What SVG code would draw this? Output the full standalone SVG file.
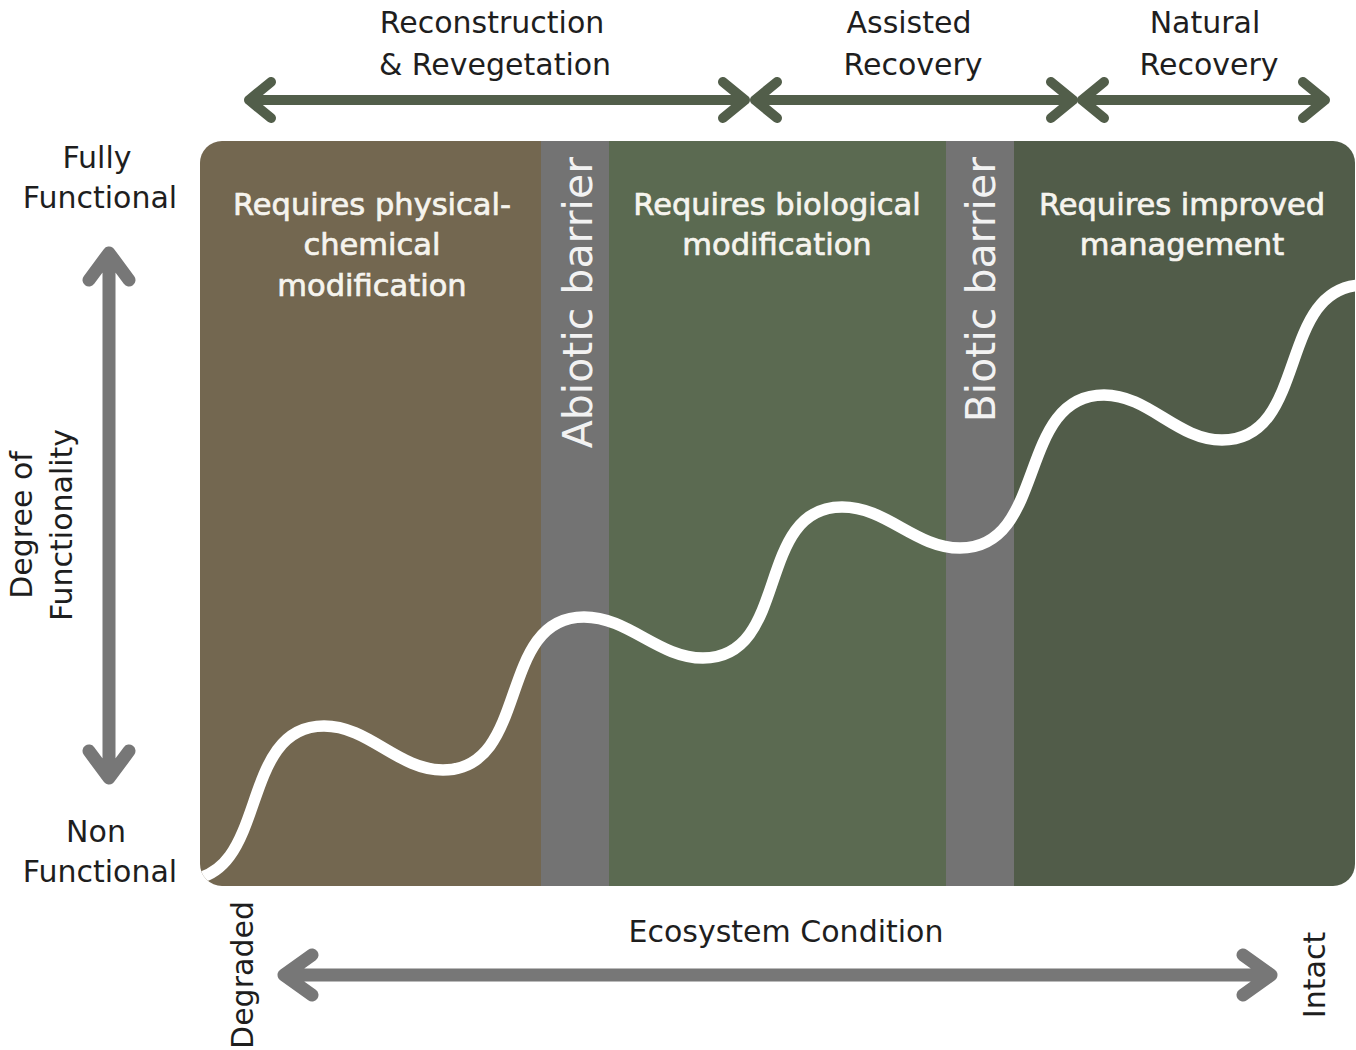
<svg xmlns="http://www.w3.org/2000/svg" width="1356" height="1050" viewBox="0 0 1356 1050">
  <style>
    .lbl { font-family: "DejaVu Sans", "Liberation Sans", sans-serif; font-size: 30px; fill: #1e1e1e; text-anchor: middle; }
    .zone { font-family: "DejaVu Sans", "Liberation Sans", sans-serif; font-size: 30.5px; fill: #f6f4ee; stroke: #f6f4ee; stroke-width: 0.7px; text-anchor: middle; }
    .bar { font-family: "DejaVu Sans", "Liberation Sans", sans-serif; font-size: 41px; fill: #f2f2f2; text-anchor: end; }
    .phase { fill: none; stroke: #525e4a; stroke-width: 10; stroke-linecap: round; stroke-linejoin: round; }
    .axis { fill: none; stroke: #777777; stroke-width: 13; stroke-linecap: round; stroke-linejoin: round; }
  </style>
  <defs>
    <clipPath id="panelClip">
      <rect x="200" y="141" width="1155" height="745" rx="22" ry="22"/>
    </clipPath>
  </defs>

  <rect width="1356" height="1050" fill="#ffffff"/>

  <!-- condition panel with its zones and barriers -->
  <g id="panel" clip-path="url(#panelClip)">
    <rect id="zone-physical" x="200" y="141" width="341" height="745" fill="#736750"/>
    <rect id="abiotic-barrier" x="541" y="141" width="68" height="745" fill="#737373"/>
    <rect id="zone-biological" x="609" y="141" width="337" height="745" fill="#5b6a51"/>
    <rect id="biotic-barrier" x="946" y="141" width="68" height="745" fill="#737373"/>
    <rect id="zone-management" x="1014" y="141" width="341" height="745" fill="#515c49"/>
    <!-- recovery trajectory -->
    <path id="trajectory" fill="none" stroke="#ffffff" stroke-width="11.5" stroke-linecap="round"
      d="M 183 880 C 271 880 236 726 324 726
         C 369 726 398 770 443 770
         C 531 770 496 617 584 617
         C 629 617 658 658 703 658
         C 791 658 754 507 842 507
         C 887 507 915 548 960 548
         C 1048 548 1016 395 1104 395
         C 1149 395 1177 440 1222 440
         C 1310 440 1276 285 1364 285"/>
  </g>

  <g id="zone-physical-label">
    <text class="zone" x="372" y="215">Requires physical-</text>
    <text class="zone" x="372" y="255">chemical</text>
    <text class="zone" x="372" y="296">modification</text>
  </g>
  <g id="zone-biological-label">
    <text class="zone" x="777" y="215">Requires biological</text>
    <text class="zone" x="777" y="255">modification</text>
  </g>
  <g id="zone-management-label">
    <text class="zone" x="1182" y="215">Requires improved</text>
    <text class="zone" x="1182" y="255">management</text>
  </g>
  <g id="abiotic-barrier-label">
    <text class="bar" transform="translate(592 157) rotate(-90)">Abiotic barrier</text>
  </g>
  <g id="biotic-barrier-label">
    <text class="bar" transform="translate(995 157) rotate(-90)">Biotic barrier</text>
  </g>

  <!-- phase headings -->
  <g id="phase-reconstruction">
    <text class="lbl" x="492" y="33">Reconstruction</text>
    <text class="lbl" x="495" y="75">&amp; Revegetation</text>
  </g>
  <g id="phase-assisted">
    <text class="lbl" x="909" y="33">Assisted</text>
    <text class="lbl" x="913" y="75">Recovery</text>
  </g>
  <g id="phase-natural">
    <text class="lbl" x="1205" y="33">Natural</text>
    <text class="lbl" x="1209" y="75">Recovery</text>
  </g>

  <!-- axis labels -->
  <g id="axis-y-labels">
    <text class="lbl" x="97" y="168">Fully</text>
    <text class="lbl" x="100" y="208">Functional</text>
    <text class="lbl" x="96" y="842">Non</text>
    <text class="lbl" x="100" y="882">Functional</text>
    <text class="lbl" transform="translate(32 525) rotate(-90)">Degree of</text>
    <text class="lbl" transform="translate(72 525) rotate(-90)">Functionality</text>
  </g>
  <g id="axis-x-labels">
    <text class="lbl" x="786" y="942">Ecosystem Condition</text>
    <text class="lbl" transform="translate(253 975) rotate(-90)">Degraded</text>
    <text class="lbl" transform="translate(1325 975) rotate(-90)">Intact</text>
  </g>

  <!-- connectors: phase spans and axis arrows -->
  <g id="connectors">
    <path class="phase" d="M 249 100 L 745 100 M 271 82 L 249 100 L 271 118 M 723 82 L 745 100 L 723 118"/>
    <path class="phase" d="M 755 100 L 1073 100 M 777 82 L 755 100 L 777 118 M 1051 82 L 1073 100 L 1051 118"/>
    <path class="phase" d="M 1082 100 L 1325 100 M 1104 82 L 1082 100 L 1104 118 M 1303 82 L 1325 100 L 1303 118"/>
    <path class="axis" d="M 109 253 L 109 778 M 89 280 L 109 253 L 129 280 M 89 751 L 109 778 L 129 751"/>
    <path class="axis" d="M 284 975 L 1271 975 M 312 955 L 284 975 L 312 995 M 1243 955 L 1271 975 L 1243 995"/>
  </g>
</svg>
